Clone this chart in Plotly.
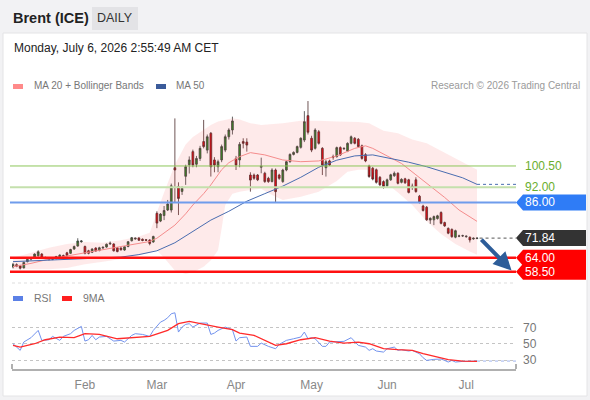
import pandas as pd
import plotly.graph_objects as go

# trading days on the chart (ICE closed on Good Friday)
dates = [d.strftime("%Y-%m-%d") for d in pd.bdate_range("2026-01-05", "2026-07-06")
         if d.strftime("%Y-%m-%d") != "2026-04-03"]

opens = [60.4, 61.3, 60.8, 60.0, 62.5, 63.5, 64.2, 64.8, 65.5, 64.1,
         63.9, 63.4, 63.7, 64.0, 64.9, 66.0, 65.8, 67.5, 68.7, 70.4,
         68.5, 66.8, 66.2, 67.9, 66.9, 67.9, 68.3, 69.5, 69.5, 68.0,
         67.9, 67.1, 68.5, 70.8, 71.5, 71.9, 71.4, 71.2, 71.1, 70.3,
         81.7, 78.6, 80.8, 83.0, 83.0, 99.8, 92.3, 90.4, 96.4, 101.0,
         106.2, 101.2, 103.5, 110.2, 106.8, 113.5, 102.9, 100.2, 102.9, 106.8,
         112.1, 114.8, 103.5, 102.9, 110.2, 110.0, 96.9, 96.9, 96.9, 100.0,
         97.6, 95.6, 94.3, 98.9, 96.9, 94.3, 98.9, 102.2, 105.1, 105.9,
         107.9, 110.8, 120.5, 111.5, 107.5, 114.1, 107.5, 99.8, 102.5, 104.2,
         104.2, 107.8, 107.3, 106.4, 109.5, 111.5, 111.1, 108.5, 105.0, 100.5,
         99.6, 99.0, 96.0, 94.3, 92.6, 95.0, 96.6, 97.6, 94.0, 95.4,
         95.0, 92.5, 95.0, 88.5, 84.6, 84.1, 79.0, 79.1, 79.6, 82.0,
         78.0, 75.7, 75.3, 72.2, 72.6, 72.7, 72.4, 72.2, 71.5, 71.7]
highs = [62.0, 61.8, 61.2, 62.5, 63.8, 64.0, 65.8, 67.0, 65.9, 64.5,
         64.2, 64.0, 64.8, 65.4, 65.3, 66.4, 67.6, 68.9, 71.8, 71.0,
         68.9, 67.2, 67.8, 68.2, 68.4, 68.5, 69.7, 70.5, 69.8, 68.3,
         68.2, 68.7, 70.7, 72.3, 72.1, 72.2, 71.7, 71.5, 71.4, 72.8,
         82.5, 81.8, 84.6, 87.0, 93.5, 119.4, 94.0, 92.5, 101.0, 104.3,
         107.0, 104.5, 108.5, 118.8, 113.0, 114.0, 104.0, 103.0, 109.0, 113.0,
         115.5, 120.1, 104.5, 110.0, 111.5, 111.5, 98.0, 97.5, 97.3, 103.8,
         98.2, 96.2, 99.6, 99.5, 97.4, 99.4, 102.6, 105.5, 106.3, 108.6,
         111.9, 122.3, 126.3, 112.5, 115.5, 114.8, 108.0, 103.0, 103.0, 105.0,
         108.2, 108.3, 107.9, 109.9, 112.6, 112.0, 111.6, 109.0, 105.6, 101.0,
         100.1, 99.5, 96.5, 94.8, 95.5, 97.4, 98.3, 98.0, 95.6, 95.8,
         95.4, 93.5, 96.0, 89.0, 85.1, 84.6, 80.1, 80.8, 81.1, 82.5,
         78.4, 76.1, 75.7, 75.2, 73.2, 73.2, 72.9, 72.5, 72.1, 72.1]
lows = [59.8, 60.3, 59.4, 59.8, 62.2, 63.0, 63.9, 64.5, 63.6, 63.5,
        63.0, 63.1, 63.4, 63.8, 64.2, 64.6, 65.5, 67.2, 68.4, 70.0,
        65.4, 65.4, 65.9, 66.4, 66.6, 67.6, 68.0, 69.2, 66.5, 66.2,
        66.9, 66.8, 68.2, 70.5, 71.2, 70.7, 70.6, 70.7, 69.0, 70.0,
        75.8, 78.2, 79.0, 82.6, 82.0, 86.0, 81.0, 89.0, 93.0, 97.5,
        100.0, 100.0, 102.5, 107.5, 105.5, 96.3, 98.0, 98.0, 102.0, 106.0,
        111.0, 113.0, 98.9, 100.0, 107.5, 106.2, 90.3, 95.0, 94.5, 97.6,
        93.8, 93.8, 94.0, 86.1, 95.0, 93.8, 98.4, 101.8, 104.7, 105.5,
        107.4, 110.0, 113.0, 106.0, 107.0, 109.0, 96.9, 96.3, 100.5, 103.0,
        103.8, 104.5, 106.9, 106.0, 109.1, 109.1, 107.8, 103.0, 102.0, 95.8,
        94.8, 93.5, 92.6, 91.5, 92.2, 94.6, 96.2, 93.2, 93.6, 93.4,
        89.6, 91.0, 89.9, 85.6, 82.4, 78.7, 77.5, 77.0, 79.2, 77.3,
        76.3, 73.4, 72.0, 71.8, 72.2, 72.3, 72.0, 70.1, 71.2, 71.4]
closes = [61.4, 60.7, 59.9, 62.2, 63.4, 63.7, 65.5, 66.4, 64.0, 63.8,
          63.3, 63.6, 64.5, 65.1, 64.6, 64.9, 67.3, 68.5, 70.7, 70.7,
          65.8, 65.8, 67.5, 66.7, 68.0, 68.2, 69.4, 69.8, 66.8, 66.5,
          67.2, 68.4, 70.4, 72.0, 71.8, 71.0, 70.9, 71.0, 69.7, 72.5,
          77.8, 81.4, 82.8, 85.4, 92.6, 98.9, 87.6, 91.6, 100.2, 102.9,
          100.9, 103.5, 107.5, 108.2, 112.1, 100.2, 100.9, 102.2, 108.2, 112.1,
          114.8, 118.4, 100.9, 109.1, 109.5, 108.8, 94.9, 95.6, 95.0, 100.4,
          94.3, 94.3, 98.9, 90.3, 95.6, 98.9, 102.2, 105.1, 105.9, 108.2,
          111.5, 118.1, 113.9, 106.8, 114.8, 109.5, 100.9, 102.2, 100.9, 104.0,
          107.8, 104.9, 107.5, 109.5, 112.1, 109.5, 108.2, 103.5, 102.5, 96.3,
          95.3, 94.0, 93.0, 92.3, 95.0, 97.0, 97.6, 93.6, 95.2, 93.8,
          90.0, 92.3, 90.3, 86.0, 82.8, 79.1, 79.7, 80.4, 80.7, 77.7,
          76.7, 73.8, 72.4, 74.8, 72.7, 72.8, 72.6, 71.1, 71.8, 71.84]

# indicators (trading-day index -> value)
ma20_days = [0, 5, 10, 15, 20, 25, 30, 35, 38, 40, 42, 45, 48, 50, 53, 55, 58, 60, 63, 66,
             70, 75, 80, 85, 90, 95, 98, 100, 104, 108, 112, 116, 120, 124, 129]
ma20 = [60.5, 61.8, 63.5, 64.7, 66.0, 67.3, 68.5, 69.8, 70.5, 71.8, 74.0, 77.0, 81.5, 85.0,
        89.5, 93.0, 99.0, 101.8, 104.2, 105.8, 104.9, 102.9, 102.2, 102.5, 104.5, 107.5,
        108.5, 107.5, 104.5, 101.5, 97.0, 92.5, 88.0, 83.0, 78.5]

ma50_days = [0, 10, 20, 30, 35, 40, 45, 50, 55, 60, 65, 70, 75, 80, 85, 90, 95, 100, 105,
             110, 115, 120, 125, 129]
ma50 = [62.5, 63.0, 63.6, 64.3, 65.3, 66.8, 70.0, 74.5, 79.0, 82.5, 86.5, 89.5, 92.5, 96.0,
        100.0, 102.8, 104.5, 104.9, 103.5, 102.0, 100.2, 98.1, 95.8, 93.2]

bb_days = [0, 5, 10, 15, 20, 25, 30, 35, 38, 40, 42, 45, 48, 50, 53, 55, 57, 58, 59, 61,
           63, 66, 69, 72, 75, 80, 85, 90, 93, 96, 99, 103, 107, 111, 115, 119, 123, 127, 129]
bb_upper = [64.0, 66.0, 68.0, 69.5, 70.3, 70.0, 71.0, 72.5, 74.0, 82.0, 90.0, 101.0, 109.0,
            112.0, 115.0, 116.8, 118.2, 118.6, 119.0, 119.5, 119.0, 117.5, 116.8, 117.2,
            117.5, 118.5, 118.5, 118.2, 118.1, 118.0, 117.5, 114.5, 113.5, 111.0, 109.5,
            106.5, 103.5, 100.5, 99.0]
bb_lower = [59.5, 59.5, 59.5, 60.0, 61.5, 62.5, 63.5, 65.0, 66.0, 67.0, 64.0, 59.0, 57.6,
            58.3, 60.5, 63.0, 67.0, 75.7, 85.0, 89.5, 90.3, 91.0, 91.5, 89.0, 87.0, 88.3,
            90.3, 94.5, 98.2, 99.0, 99.0, 94.5, 90.0, 85.0, 78.5, 73.5, 69.5, 66.5, 65.2]

rsi_days = [0, 2, 3, 5, 7, 8, 10, 11, 13, 14, 16, 17, 19, 20, 21, 22, 23, 24, 26, 28,
            30, 31, 33, 34, 36, 38, 39, 41, 42, 43, 44, 45, 46, 47, 48, 49, 50, 52, 54, 55,
            56, 57, 59, 61, 62, 63, 65, 66, 68, 69, 71, 73, 74, 76, 78, 80, 81, 82, 83, 84,
            86, 87, 88, 90, 92, 94, 95, 96, 98, 99, 100, 101, 103, 104, 106, 107, 108, 110, 111, 113,
            114, 115, 117, 119, 120, 121, 122, 123, 125, 127, 129]
rsi = [49.9, 41.8, 52.0, 57.3, 66.2, 54.0, 54.8, 58.9, 54.0, 58.9,
       62.2, 66.2, 71.1, 53.2, 54.8, 60.1, 54.8, 58.1, 58.9, 53.2,
       54.0, 52.0, 60.1, 62.2, 61.3, 58.9, 66.2, 76.4, 78.5, 81.7,
       86.6, 87.8, 64.2, 70.3, 73.6, 74.4, 70.3, 75.2, 75.2, 61.3,
       63.0, 66.2, 70.3, 67.1, 53.2, 57.3, 58.1, 46.7, 46.7, 50.7,
       46.7, 43.8, 49.1, 54.0, 56.0, 58.1, 64.2, 56.0, 57.3, 56.0,
       46.7, 46.7, 52.0, 52.8, 52.8, 57.3, 52.0, 47.9, 45.8, 41.8,
       43.8, 41.0, 39.7, 43.8, 45.8, 41.8, 42.6, 41.0, 41.8, 37.7,
       32.8, 29.5, 30.8, 31.2, 29.5, 27.5, 29.5, 27.5, 28.3, 28.3,
       28.7]

ma9_days = [0, 2, 6, 9, 13, 17, 20, 24, 29, 33, 38, 43, 46, 49, 52, 57, 61, 63, 67, 71,
            73, 76, 80, 84, 88, 92, 96, 99, 103, 107, 111, 114, 118, 121, 125, 129]
rsi_ma9 = [47.9, 45.8, 49.9, 54.8, 58.1, 57.3, 62.2, 61.3, 56.0, 57.3,
           58.9, 66.2, 74.4, 77.2, 74.4, 70.3, 67.1, 63.0, 60.1, 52.0,
           47.9, 49.9, 54.8, 57.3, 53.2, 50.7, 52.0, 49.9, 43.8, 42.6,
           41.8, 37.7, 33.6, 30.4, 28.7, 28.3]

month_ticks = ["2026-02-02", "2026-03-02", "2026-04-01", "2026-05-01", "2026-06-01", "2026-07-01"]
month_labels = ["Feb", "Mar", "Apr", "May", "Jun", "Jul"]

resistance_2 = 100.5
resistance_1 = 92.0
pivot = 86.0
last_price = 71.84
support_1 = 64.0
support_2 = 58.5

FONT = "Liberation Sans, Arial, sans-serif"
FIG_W, FIG_H = 590, 400
PL, PR = 12, 516


def px(x):
    return (x - PL) / (PR - PL)


def py(y):
    return 1 - y / FIG_H


def pick(days):
    return [dates[i] for i in days]


fig = go.Figure()

# bollinger band fill
fig.add_trace(go.Scatter(x=pick(bb_days), y=bb_upper, mode="lines", line=dict(width=0),
                         showlegend=False, hoverinfo="skip"))
fig.add_trace(go.Scatter(x=pick(bb_days), y=bb_lower, mode="lines", line=dict(width=0),
                         fill="tonexty", fillcolor="rgba(250,80,80,0.12)",
                         showlegend=False, hoverinfo="skip"))
fig.add_trace(go.Scatter(x=pick(ma20_days), y=ma20, mode="lines",
                         line=dict(color="#f58c8c", width=1), showlegend=False))
fig.add_trace(go.Scatter(x=pick(ma50_days), y=ma50, mode="lines",
                         line=dict(color="#4a6db0", width=1), showlegend=False))

fig.add_trace(go.Candlestick(
    x=dates, open=opens, high=highs, low=lows, close=closes,
    increasing=dict(line=dict(color="#3c3c3c", width=0.8), fillcolor="#1f8a1f"),
    decreasing=dict(line=dict(color="#4a2a2a", width=0.8), fillcolor="#e8000b"),
    whiskerwidth=0, showlegend=False))

# RSI panel
fig.add_trace(go.Scatter(x=pick(rsi_days), y=rsi, mode="lines", xaxis="x2", yaxis="y2",
                         line=dict(color="#7393ee", width=1), showlegend=False))
fig.add_trace(go.Scatter(x=pick(ma9_days), y=rsi_ma9, mode="lines", xaxis="x2", yaxis="y2",
                         line=dict(color="#ff2a2a", width=1.3), showlegend=False))

n = len(dates)
x_end = n - 1 + (PR - 477) / 3.6
x_range = [-0.28, x_end]

shapes = []
# background card
shapes.append(dict(type="rect", xref="paper", yref="paper", x0=px(3), x1=px(587), y0=py(396), y1=py(33),
                   fillcolor="white", line=dict(color="#e4e4e6", width=1), layer="below"))
shapes.append(dict(type="rect", xref="paper", yref="paper", x0=px(92), x1=px(138), y0=py(30), y1=py(7),
                   fillcolor="#e3e3e6", line_width=0, layer="below"))

# horizontal levels
left_edge = px(10)
shapes.append(dict(type="line", xref="paper", yref="y", x0=left_edge, x1=1, y0=resistance_2, y1=resistance_2,
                   line=dict(color="#8cc65a", width=1)))
shapes.append(dict(type="line", xref="paper", yref="y", x0=left_edge, x1=1, y0=resistance_1, y1=resistance_1,
                   line=dict(color="#c4e0ad", width=2)))
shapes.append(dict(type="line", xref="paper", yref="y", x0=left_edge, x1=1, y0=pivot, y1=pivot,
                   line=dict(color="#6f9cec", width=2)))
shapes.append(dict(type="line", xref="paper", yref="y", x0=left_edge, x1=1, y0=support_1, y1=support_1,
                   line=dict(color="#ff1010", width=2.5)))
shapes.append(dict(type="line", xref="paper", yref="y", x0=left_edge, x1=1, y0=support_2, y1=support_2,
                   line=dict(color="#ff1010", width=2.5)))

# dotted extensions of last values
shapes.append(dict(type="line", xref="x", yref="y", x0=n - 1, x1=x_end, y0=ma50[-1], y1=ma50[-1],
                   line=dict(color="#4a6db0", width=1, dash="dot")))
shapes.append(dict(type="line", xref="x", yref="y", x0=n - 0.3, x1=x_end, y0=last_price, y1=last_price,
                   line=dict(color="#555555", width=1, dash="dot")))
shapes.append(dict(type="line", xref="x2", yref="y2", x0=n - 1, x1=x_end, y0=rsi[-1], y1=rsi[-1],
                   line=dict(color="#9fb3ee", width=1, dash="dot")))

# price tags on the right
tag_path = "M0,0 L7,8 L70,8 L70,-8 L7,-8 Z"
for level, color in [(pivot, "#2f7cf6"), (last_price, "#333333"), (support_1, "#ff0000"), (support_2, "#ff0000")]:
    shapes.append(dict(type="path", xref="paper", yref="y", xsizemode="pixel", ysizemode="pixel",
                       xanchor=1, yanchor=level, path=tag_path, fillcolor=color, line_width=0))

# legend swatches
shapes.append(dict(type="rect", xref="paper", yref="paper", x0=px(13), x1=px(23), y0=py(89), y1=py(84),
                   fillcolor="#ff8a8a", line_width=0))
shapes.append(dict(type="rect", xref="paper", yref="paper", x0=px(156), x1=px(166), y0=py(89), y1=py(84),
                   fillcolor="#3b5b9a", line_width=0))
shapes.append(dict(type="rect", xref="paper", yref="paper", x0=px(13), x1=px(23), y0=py(301), y1=py(296),
                   fillcolor="#5b80e6", line_width=0))
shapes.append(dict(type="rect", xref="paper", yref="paper", x0=px(62), x1=px(72), y0=py(301), y1=py(296),
                   fillcolor="#ff1f1f", line_width=0))

# panel separator and axis end ticks
shapes.append(dict(type="line", xref="paper", yref="paper", x0=0, x1=1, y0=py(283), y1=py(283),
                   line=dict(color="#dddddd", width=1, dash="dot")))
for xe in [PL, PR]:
    shapes.append(dict(type="line", xref="paper", yref="paper", x0=px(xe), x1=px(xe), y0=py(369), y1=py(364),
                       line=dict(color="#b0b0b0", width=2)))

annotations = [
    dict(text="<b>Brent (ICE)</b>", x=px(11), y=py(18), xref="paper", yref="paper", xanchor="left",
         yanchor="middle", showarrow=False, font=dict(size=14.5, color="#222222")),
    dict(text="DAILY", x=px(115), y=py(18), xref="paper", yref="paper", xanchor="center",
         yanchor="middle", showarrow=False, font=dict(size=12.5, color="#333333")),
    dict(text="Monday, July 6, 2026 2:55:49 AM CET", x=px(12), y=py(48), xref="paper", yref="paper",
         xanchor="left", yanchor="middle", showarrow=False, font=dict(size=12, color="#222222")),
    dict(text="MA 20 + Bollinger Bands", x=px(32), y=py(86), xref="paper", yref="paper", xanchor="left",
         yanchor="middle", showarrow=False, font=dict(size=10, color="#777777")),
    dict(text="MA 50", x=px(174), y=py(86), xref="paper", yref="paper", xanchor="left",
         yanchor="middle", showarrow=False, font=dict(size=10, color="#777777")),
    dict(text="Research © 2026 Trading Central", x=px(582), y=py(86), xref="paper", yref="paper",
         xanchor="right", yanchor="middle", showarrow=False, font=dict(size=10, color="#9a9a9a")),
    dict(text="RSI", x=px(32), y=py(298), xref="paper", yref="paper", xanchor="left",
         yanchor="middle", showarrow=False, font=dict(size=10.5, color="#777777")),
    dict(text="9MA", x=px(81), y=py(298), xref="paper", yref="paper", xanchor="left",
         yanchor="middle", showarrow=False, font=dict(size=10.5, color="#777777")),
]

for level, color in [(resistance_2, "#6aae2e"), (resistance_1, "#6aae2e"), (pivot, "white"),
                     (last_price, "white"), (support_1, "white"), (support_2, "white")]:
    annotations.append(dict(text=f"{level:.2f}", x=1, y=level, xref="paper", yref="y", xanchor="left",
                            yanchor="middle", xshift=7, showarrow=False, font=dict(size=12, color=color)))

# projected move arrow
annotations.append(dict(text="", x=n + 8.6, y=support_2 + 0.5, xref="x", yref="y",
                        ax=n - 0.2, ay=last_price, axref="x", ayref="y", showarrow=True,
                        arrowhead=2, arrowsize=0.9, arrowwidth=4, arrowcolor="#2d5d99"))

fig.update_layout(
    width=FIG_W, height=FIG_H, autosize=False,
    margin=dict(l=PL, r=FIG_W - PR, t=0, b=0),
    paper_bgcolor="#f2f2f4", plot_bgcolor="rgba(0,0,0,0)",
    font=dict(family=FONT, color="#777777"),
    showlegend=False, dragmode=False,
    xaxis=dict(domain=[0, 1], anchor="y", type="category", categoryorder="array", categoryarray=dates,
               range=x_range, showticklabels=False, showgrid=False, zeroline=False, showline=False,
               rangeslider=dict(visible=False), fixedrange=True),
    yaxis=dict(domain=[py(280), py(95)], range=[55.2, 128.7], showticklabels=False, showgrid=False,
               zeroline=False, fixedrange=True),
    xaxis2=dict(domain=[0, 1], anchor="y2", type="category", categoryorder="array", categoryarray=dates,
                range=x_range, showgrid=False, zeroline=False, showline=True, linecolor="#b0b0b0",
                linewidth=2, ticks="", tickvals=month_ticks, ticktext=month_labels,
                tickfont=dict(size=12, color="#888888"), ticklabelstandoff=4, fixedrange=True),
    yaxis2=dict(domain=[py(369), py(305)], range=[19, 97.3], side="right", tickvals=[30, 50, 70],
                showgrid=True, gridcolor="#c4c4c4", griddash="dot", gridwidth=1, zeroline=False,
                ticks="", tickfont=dict(size=12, color="#777777"), ticklabelstandoff=6, fixedrange=True),
    shapes=shapes, annotations=annotations,
)

# page body has a default margin; drop it so the figure sits at the window origin
fig.write_html("out.html", config={"displayModeBar": False},
               post_script="document.body.style.margin='0';document.body.style.overflow='hidden';")
